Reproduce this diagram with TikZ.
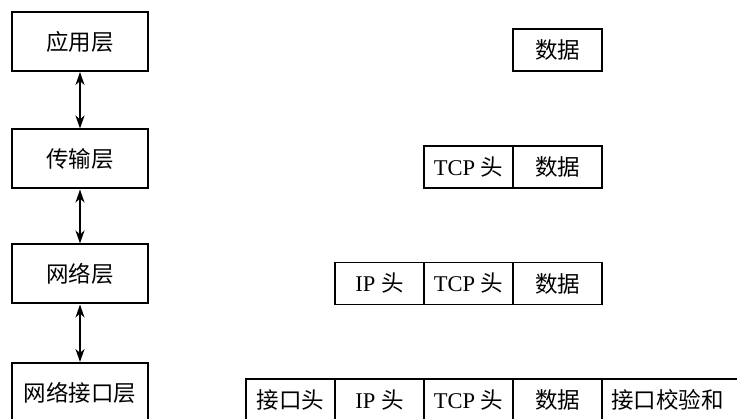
\documentclass[tikz,border=0pt]{standalone}
\usepackage{fontspec}
\setmainfont{Liberation Serif}
\newfontfamily\cjk{Noto Sans CJK SC}
\newcommand{\zh}[1]{{\cjk #1}}
\usetikzlibrary{arrows.meta}

\begin{document}
\begin{tikzpicture}[
    x=1pt, y=-1pt,
    layer/.style={rectangle, draw, line width=2pt, minimum width=136pt, minimum height=59pt, inner sep=0pt, align=center, font=\fontsize{22.5}{26}\selectfont},
    cell/.style={rectangle, draw, line width=1.8pt, minimum width=89pt, minimum height=42pt, inner sep=0pt, align=center, font=\fontsize{22.5}{26}\selectfont},
    arrow/.style={<->, >={Stealth[length=13pt,width=9pt,inset=4pt]}, line width=2pt}
]
\clip (0,0) rectangle (737,419);

% 协议层
\node[layer] (app) at (80,41.5) {\zh{应用层}};
\node[layer] (trans) at (80,159) {\zh{传输层}};
\node[layer] (net) at (80,274) {\zh{网络层}};
\node[layer] (link) at (80,392.5) {\zh{网络接口层}};

% 层间箭头
\draw[arrow] (app) -- (trans);
\draw[arrow] (trans) -- (net);
\draw[arrow] (net) -- (link);

% 应用层数据
\node[cell] (data1) at (557.5,50) {\zh{数据}};

% 传输层报文段
\node[cell] (tcp2) at (468.5,167) {TCP \zh{头}};
\node[cell] (data2) at (557.5,167) {\zh{数据}};

% 网络层数据报
\node[cell] (ip3) at (379.5,283.5) {IP \zh{头}};
\node[cell] (tcp3) at (468.5,283.5) {TCP \zh{头}};
\node[cell] (data3) at (557.5,283.5) {\zh{数据}};

% 网络接口层帧（校验和框超出右边）
\node[cell] (head4) at (290.5,400) {\zh{接口头}};
\node[cell] (ip4) at (379.5,400) {IP \zh{头}};
\node[cell] (tcp4) at (468.5,400) {TCP \zh{头}};
\node[cell] (data4) at (557.5,400) {\zh{数据}};
\node[cell, inner xsep=9pt, text width=142pt, align=left] (sum4) at (682,400) {\zh{接口校验和}};

\end{tikzpicture}
\end{document}
